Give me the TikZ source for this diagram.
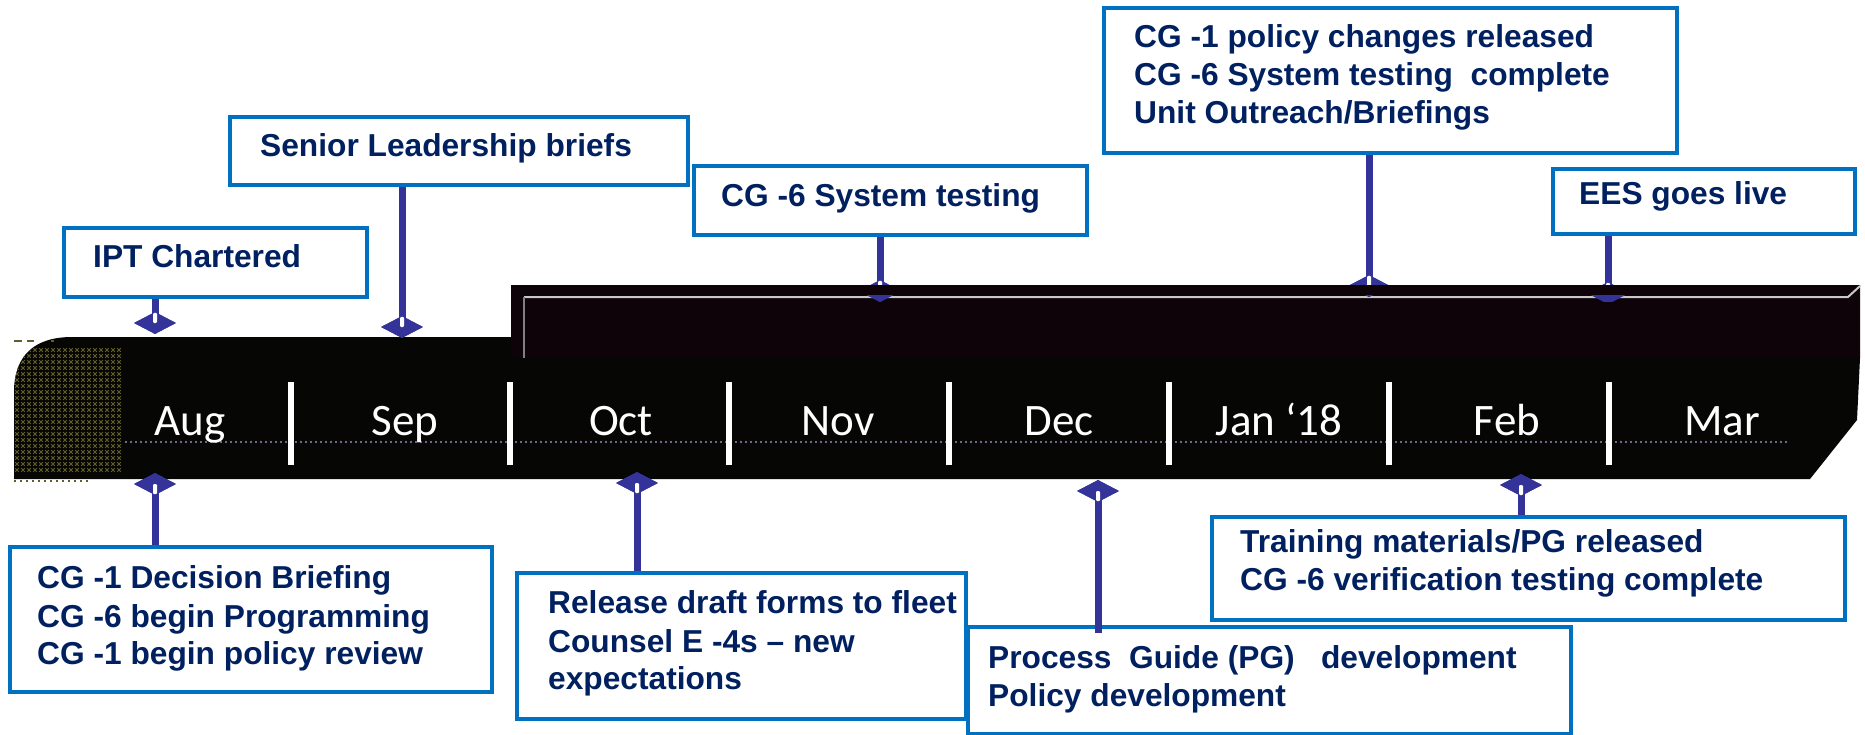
\documentclass[tikz,border=0pt]{standalone}
\usepackage{fontspec}
\setmainfont{Liberation Sans}
\newfontfamily\monthfont{Carlito}
\usetikzlibrary{shapes.geometric}

\definecolor{boxblue}{RGB}{0,112,192}
\definecolor{navytext}{RGB}{0,32,96}
\definecolor{linkblue}{RGB}{51,51,153}
\definecolor{barblack}{RGB}{6,6,4}
\definecolor{bartop}{RGB}{13,3,9}
\definecolor{olivegrid}{RGB}{98,94,42}
\definecolor{dotline}{RGB}{120,100,135}
\definecolor{edgegray}{RGB}{200,200,200}

\tikzset{
  evbox/.style={draw=boxblue, line width=4pt, fill=white, anchor=north west, inner sep=0pt},
  evtext/.style={anchor=base west, inner sep=0pt, text=navytext,
                 font=\fontsize{31.7}{38}\selectfont\bfseries},
  pin/.style={shape=diamond, fill=linkblue, draw=none, minimum width=42pt,
              minimum height=22pt, inner sep=0pt, aspect=1.9},
  link/.style={draw=linkblue, line width=7pt},
  pincore/.style={fill=white, rounded corners=1.2pt},
  monthlabel/.style={anchor=base, inner sep=0pt, text=white,
                     font=\monthfont\fontsize{45}{45}\selectfont},
  monthsep/.style={draw=white, line width=6pt},
}

\begin{document}
\begin{tikzpicture}[x=1pt,y=-1pt]
\useasboundingbox (0,0) rectangle (1865,735);
\fill[white] (0,0) rectangle (1865,735);

% ---------- event boxes ----------
\node[evbox, minimum width=303pt, minimum height=69pt]  (ipt)      at (62,226)   {};
\node[evbox, minimum width=458pt, minimum height=68pt]  (senior)   at (228,115)  {};
\node[evbox, minimum width=393pt, minimum height=69pt]  (systest)  at (692,164)  {};
\node[evbox, minimum width=573pt, minimum height=145pt] (policy)   at (1102,6)   {};
\node[evbox, minimum width=302pt, minimum height=65pt]  (ees)      at (1551,167) {};
\node[evbox, minimum width=482pt, minimum height=145pt] (decision) at (8,545)    {};
\node[evbox, minimum width=449pt, minimum height=146pt] (release)  at (515,571)  {};
\node[evbox, minimum width=603pt, minimum height=107pt] (pgdev)    at (966,625)  {};
\node[evbox, minimum width=633pt, minimum height=103pt] (training) at (1210,515) {};

\node[evtext] (tIpt)    at (93,268)   {IPT Chartered};
\node[evtext] (tSenior) at (260,157)  {Senior Leadership briefs};
\node[evtext] (tTest)   at (721,207)  {CG -6 System testing};
\node[evtext] (tPolA)   at (1134,48)  {CG -1 policy changes released};
\node[evtext] (tPolB)   at (1134,86)  {CG -6 System testing\ \ complete};
\node[evtext] (tPolC)   at (1134,124) {Unit Outreach/Briefings};
\node[evtext] (tEes)    at (1579,205) {EES goes live};
\node[evtext] (tDecA)   at (37,588)   {CG -1 Decision Briefing};
\node[evtext] (tDecB)   at (37,627)   {CG -6 begin Programming};
\node[evtext] (tDecC)   at (37,664)   {CG -1 begin policy review};
\node[evtext] (tRelA)   at (548,613)  {Release draft forms to fleet};
\node[evtext] (tRelB)   at (548,652)  {Counsel E -4s -- new};
\node[evtext] (tRelC)   at (548,689)  {expectations};
\node[evtext] (tPgA)    at (988,668)  {Process\ \ Guide (PG)\ \ \ development};
\node[evtext] (tPgB)    at (988,706)  {Policy development};
\node[evtext] (tTrA)    at (1240,552) {Training materials/PG released};
\node[evtext] (tTrB)    at (1240,590) {CG -6 verification testing complete};

% ---------- pins partly hidden behind the raised bar ----------
\node[pin] (dTest) at (880,291)  {};
\node[pin] (dPol)  at (1369,286) {};
\node[pin] (dEes)  at (1608,293) {};
\foreach \p/\b in {dTest/systest, dPol/policy, dEes/ees}{
  \draw[link] (\p.center) -- (\p |- \b.south);
  \node[pin] at (\p) {};
  \fill[pincore] ([xshift=-2pt]\p.center) rectangle ([xshift=2pt,yshift=-1pt]\p.north);
}

% ---------- timeline bar ----------
\fill[barblack] (14,479) -- (14,392) .. controls (14,355) and (35,337) .. (72,337)
  -- (511,337) -- (511,285) -- (1860,285) -- (1860,358) -- (1857,420) -- (1810,479) -- cycle;
\fill[bartop] (511,285) -- (1860,285) -- (1860,358) -- (511,358) -- cycle;
\draw[edgegray, line width=2pt] (524,297) -- (1848,297) -- (1860,286);
\draw[gray, line width=1.5pt] (524,297) -- (524,358);

% olive texture at the rounded end
\begin{scope}
  \clip (14,474) -- (14,392) .. controls (14,355) and (35,337) .. (72,337)
    -- (123,337) -- (123,474) -- cycle;
  \foreach \x in {17,23,...,122}
    \foreach \y in {350,356,...,472}
      \draw[olivegrid, line width=1pt] (\x-1.8,\y-1.8) -- (\x+1.8,\y+1.8)
                                       (\x-1.8,\y+1.8) -- (\x+1.8,\y-1.8);
\end{scope}
\draw[olivegrid, line width=1.5pt] (14,341) -- (22,341) (27,341) -- (34,341) (51,341) -- (54,341);
\draw[olivegrid, line width=2pt, dash pattern=on 2pt off 4pt] (14,481) -- (90,481);

% faint dotted guide across the months
\draw[dotline, line width=1.2pt, dash pattern=on 1.5pt off 3.5pt] (125,442) -- (1790,442);

% month separators and labels
\foreach \x in {291,510,729,949,1169,1389,1609}
  \draw[monthsep] (\x,382) -- (\x,465);
\node[monthlabel] (mAug) at (190,435)  {Aug};
\node[monthlabel] (mSep) at (405,435)  {Sep};
\node[monthlabel] (mOct) at (621,435)  {Oct};
\node[monthlabel] (mNov) at (838,435)  {Nov};
\node[monthlabel] (mDec) at (1059,435) {Dec};
\node[monthlabel] (mJan) at (1279,435) {Jan ‘18};
\node[monthlabel] (mFeb) at (1507,435) {Feb};
\node[monthlabel] (mMar) at (1722,435) {Mar};

% pin tips showing through the highlight line
\begin{scope}
  \clip (0,295) rectangle (1865,301);
  \foreach \p in {dTest,dPol,dEes}
    \fill[linkblue] (\p.north) -- (\p.east) -- (\p.south) -- (\p.west) -- cycle;
\end{scope}

% ---------- pins above the bar ----------
\node[pin] (dIpt)    at (155,323) {};
\node[pin] (dSenior) at (402,327) {};
\foreach \p/\b in {dIpt/ipt, dSenior/senior}{
  \draw[link] (\p.center) -- (\p |- \b.south);
  \node[pin] at (\p) {};
  \fill[pincore] ([xshift=-2pt]\p.center) rectangle ([xshift=2pt,yshift=-1pt]\p.north);
}

% ---------- pins below the bar ----------
\node[pin] (dAug) at (155,484)  {};
\node[pin] (dOct) at (637,483)  {};
\node[pin] (dDec) at (1098,491) {};
\node[pin] (dFeb) at (1521,485) {};
\coordinate (decEnd) at (1098,633);
\draw[link] (dAug.center) -- (dAug |- decision.north);
\draw[link] (dOct.center) -- (dOct |- release.north);
\draw[link] (dDec.center) -- (decEnd);
\draw[link] (dFeb.center) -- (dFeb |- training.north);
\foreach \p in {dAug,dOct,dDec,dFeb}{
  \node[pin] at (\p) {};
  \fill[pincore] ([xshift=-2pt]\p.center) rectangle ([xshift=2pt,yshift=1pt]\p.south);
}
\end{tikzpicture}
\end{document}
